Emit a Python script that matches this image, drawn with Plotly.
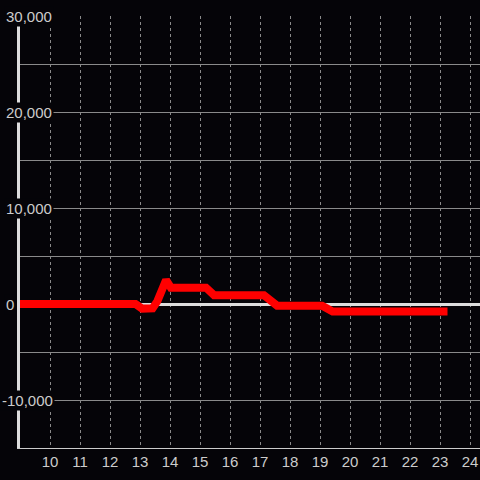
import plotly.graph_objects as go

# Data
hours = [9, 12.85, 13.07, 13.42, 13.58, 13.87, 14.03, 15.2, 15.47, 17.13, 17.57, 19.07, 19.42, 23.25]
values = [0, 0, -480, -450, 300, 2500, 1700, 1700, 920, 920, -180, -180, -780, -780]

x_ticks = list(range(10, 25))
y_label_vals = [30000, 20000, 10000, 0, -10000]

BG = "#050408"
TXT = "#cccccc"
FONT = "Liberation Sans, Arial, sans-serif"

fig = go.Figure()
fig.add_trace(go.Scatter(
    x=hours, y=values, mode="lines",
    line=dict(color="#ff0000", width=8),
    hoverinfo="skip",
))

annotations = []
for v in y_label_vals:
    annotations.append(dict(
        x=0, xref="paper", y=v, yref="y",
        text=f"{v:,}", showarrow=False,
        xanchor="left", yanchor="middle",
        xshift=-16 if v >= 0 else -20,
        bgcolor=BG, borderpad=1,
        font=dict(family=FONT, size=15, color=TXT),
    ))

fig.update_layout(
    width=480, height=480,
    margin=dict(l=20, r=0, t=16, b=32),
    paper_bgcolor=BG, plot_bgcolor=BG,
    showlegend=False,
    annotations=annotations,
    xaxis=dict(
        range=[9, 24.333], tickvals=x_ticks,
        ticktext=[str(t) for t in x_ticks],
        showgrid=True, gridcolor="#8a8a8a", gridwidth=1, griddash="3px,3px",
        zeroline=False,
        showline=True, linecolor="#cccccc", linewidth=1,
        ticks="", tickfont=dict(family=FONT, size=15, color=TXT),
    ),
    yaxis=dict(
        range=[-15000, 30000], dtick=5000,
        showgrid=True, gridcolor="#8a8a8a", gridwidth=1,
        zeroline=True, zerolinecolor="#dddddd", zerolinewidth=3,
        showline=True, linecolor="#dddddd", linewidth=3,
        showticklabels=False, ticks="",
        layer="below traces",
    ),
)

fig.write_html(
    "out.html",
    config={"displayModeBar": False},
    post_script="document.body.style.margin='0';document.body.style.background='#050408';",
)
